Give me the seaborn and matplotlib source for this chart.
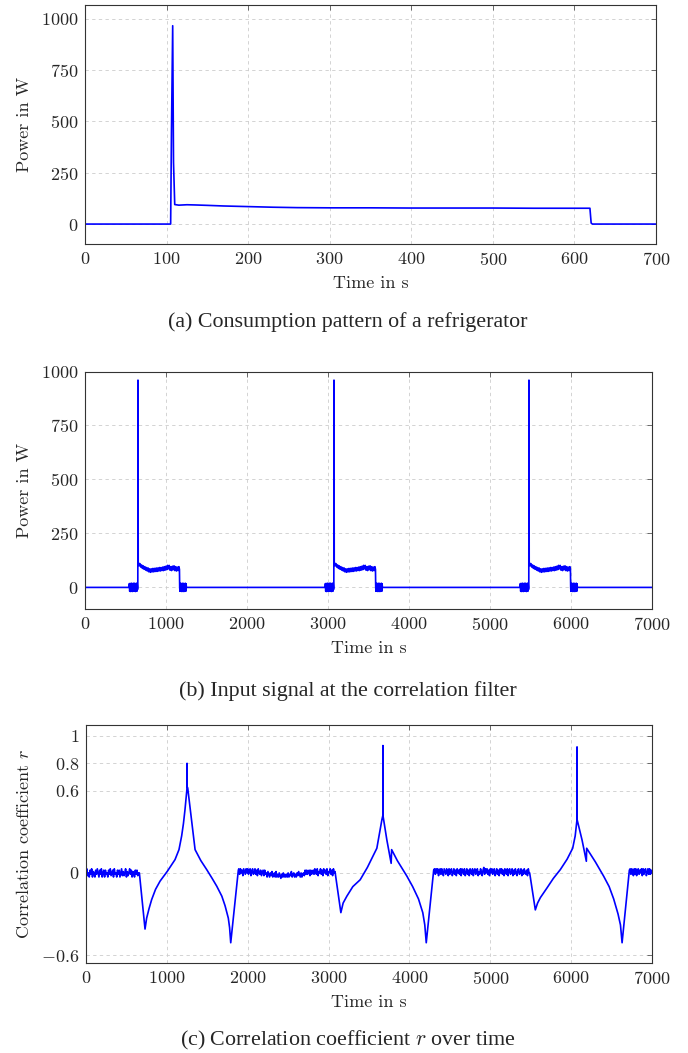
import numpy as np
import matplotlib
matplotlib.use("Agg")
import matplotlib.pyplot as plt
import seaborn as sns

# --- DATA ---

# (a) one refrigerator cycle, time in s / power in W
fridge_t = [0, 105, 106, 107.5, 108.5, 110, 115, 125, 135, 150, 170, 200, 230,
            260, 300, 350, 400, 450, 500, 550, 600, 619, 620.5, 622, 650, 700]
fridge_p = [0, 0, 450, 965, 300, 95, 92, 94, 93, 91, 88, 85, 82,
            80, 79, 79, 78, 78, 78, 77, 77, 77, 5, 0, 0, 0]

# (b) input signal: three refrigerator runs inside 7000 s
spike_times = [654, 3074, 5481]
# shape of one run, time relative to the start-up spike
run_t = [-2, 0, 3] + list(range(5, 506, 10)) + [512, 515]
run_p = [0, 960, 112,
         115, 100, 110, 94, 104, 88, 100, 84, 96, 80,
         92, 76, 90, 72, 86, 70, 86, 72, 88, 72,
         88, 74, 90, 74, 90, 76, 92, 76, 92, 78,
         94, 78, 96, 80, 98, 82, 102, 86, 102, 80,
         96, 78, 98, 82, 100, 78, 96, 76, 94, 78,
         96, 84, 0]
# switching transients just before and after each run
blob_pre_t = list(range(-110, -5, 4))
blob_pre_p = [0, 18, -18, 17, -19, 18, -17, 19, -18, 18, -19, 17, -18, 19,
              -17, 18, -18, 19, -18, 17, -19, 18, -17, 19, -18, 18, -10]
blob_post_t = list(range(518, 599, 4))
blob_post_p = [-18, 18, -17, 19, -18, 17, -19, 18, -18, 19, -17, 18, -19, 17,
               -18, 18, -17, 19, -18, 16, 0]

# (c) correlation coefficient r, noisy flat parts (hundredths, every 10 s)
flat_step = 10
flat1_t0 = 0
flat1 = [-1, 3, -2, 0, -3, 2, -1, 3, -3, 1, 0, -3, 2, -1, 3, 0, -3, 2, -1, 3,
         -3, 0, 2, -3, 2, -1, 0, -3, 2, -1, 3, -2, 0, 2, -3, 3, -1, 0, -3, 2,
         -1, 2, -3, 0, 3, -2, 1, -2, 0, 3, -3, 1, -2, 0, 3, -1, 2, -3, 1, 0,
         -3, 2, -1, 2, -2, 0]
flat2_t0 = 1890
flat2 = [3, -1, 3, 0, 2, -2, 3, 1, -1, 3, 0, 3, -1, 2, 3, -2, 1, 3, -1, 0,
         3, -1, 2, -2, 3, 0, -1, 2, -2, 0, 2, -2, 2, -1, 0, -3, 1, -1, -3, 0,
         -2, 1, -3, -1, 0, -3, 1, -3, -1, -3, 0, -2, -4, -1, -3, 0, -3, -1, -3, -1,
         -3, 0, -3, -1, -2, 1, -3, -1, 0, -3, -1, -3, 0, -2, 1, -1, -3, 0, -3, -1,
         0, -2, 2, -1, 2, -1, 0, 2, -2, 2, -1, 0, 2, -1, 3, 0, -1, 3, -2, 1,
         0, 3, -1, 2, -2, 3, 0, 2, -1, 3, -2, 1, 0, 3, -1, 2, -2, 3, 0, 1]
flat3_t0 = 4310
flat3 = [3, -1, 3, 0, 3, -2, 1, 3, -1, 3, 0, -2, 3, 1, -1, 3, 0, -2, 3, -1,
         2, 3, -2, 0, 3, -1, 2, -2, 3, 0, 2, -1, 3, -2, 3, 1, -1, 3, -2, 0,
         3, -1, 2, -2, 3, 0, -1, 3, -2, 1, 3, -1, 0, 3, -2, 1, -1, 3, 0, -2,
         2, 4, -1, 3, 0, 3, -1, 2, -2, 3, 0, 3, -1, 2, 3, -2, 0, 3, -1, 2,
         -2, 3, 0, 3, -1, 2, -2, 3, 0, -1, 3, -2, 2, 3, -1, 0, 3, -2, 2, -1,
         3, 0, -2, 2, 3, -1, 0, 3, -2, 2, -1, 3, 0, -1, 2, -2, 3, 0]
flat4_t0 = 6730
flat4 = [3, -1, 3, 0, -2, 3, -1, 3, -2, 2, 3, -1, 2, 0, 3, -2, 3, -1, 2, 3,
         -2, 0, 3, -1, 3, -1, 2, 0]

cycle1_t = [660, 730, 750, 780, 812, 860, 916, 1006, 1101, 1150, 1183, 1205,
            1224, 1240, 1249.5, 1250, 1250.5, 1258, 1349, 1420, 1493, 1560,
            1617, 1680, 1720, 1760, 1776, 1790, 1884]
cycle1_r = [0, -0.41, -0.33, -0.26, -0.195, -0.12, -0.06, 0.012, 0.097, 0.17,
            0.27, 0.36, 0.46, 0.56, 0.62, 0.80, 0.63, 0.62, 0.17, 0.09, 0.024,
            -0.04, -0.097, -0.17, -0.24, -0.33, -0.40, -0.51, 0.02]
cycle2_t = [3082, 3152, 3180, 3226, 3300, 3391, 3480, 3556, 3597, 3630, 3660,
            3671.5, 3672, 3672.5, 3721, 3774, 3780, 3850, 3969, 4040, 4112,
            4165, 4190, 4208, 4300]
cycle2_r = [0, -0.29, -0.22, -0.17, -0.10, -0.05, 0.04, 0.13, 0.18, 0.29,
            0.39, 0.42, 0.93, 0.42, 0.24, 0.07, 0.17, 0.09, -0.024, -0.10,
            -0.19, -0.29, -0.38, -0.51, 0.02]
cycle3_t = [5487, 5557, 5585, 5620, 5701, 5780, 5866, 5950, 6019, 6050, 6072.5,
            6073, 6073.5, 6135, 6188, 6192, 6300, 6402, 6470, 6526, 6580,
            6610, 6630, 6720]
cycle3_r = [0, -0.27, -0.22, -0.18, -0.11, -0.04, 0.024, 0.10, 0.18, 0.27,
            0.39, 0.92, 0.39, 0.24, 0.085, 0.18, 0.08, -0.024, -0.10, -0.19,
            -0.30, -0.38, -0.51, 0.02]

# --- BUILD SERIES ---
sig_t, sig_p = [0], [0]
for s in spike_times:
    for rel_t, vals in [(blob_pre_t, blob_pre_p), (run_t, run_p), (blob_post_t, blob_post_p)]:
        sig_t += [s + v for v in rel_t]
        sig_p += list(vals)
sig_t.append(7000)
sig_p.append(0)


def flat_piece(t0, vals):
    return [t0 + flat_step * i for i in range(len(vals))], [v / 100 for v in vals]


corr_t, corr_r = [], []
for tt, rr in [flat_piece(flat1_t0, flat1), (cycle1_t, cycle1_r),
               flat_piece(flat2_t0, flat2), (cycle2_t, cycle2_r),
               flat_piece(flat3_t0, flat3), (cycle3_t, cycle3_r),
               flat_piece(flat4_t0, flat4)]:
    corr_t += tt
    corr_r += rr

# --- STYLE ---
sns.set_style("white")
plt.rcParams["font.family"] = ["cmr10", "DejaVu Serif"]
plt.rcParams["mathtext.fontset"] = "cm"
plt.rcParams["axes.formatter.use_mathtext"] = True

FS = 13
CAP_FS = 15.8
LINE = "#0000ff"
LW = 1.2

fig = plt.figure(figsize=(6.88, 10.53), dpi=100)
ax_a = fig.add_axes([85 / 688, 1 - 244 / 1053, 571 / 688, 239 / 1053])
ax_b = fig.add_axes([85 / 688, 1 - 609 / 1053, 567 / 688, 237.5 / 1053])
ax_c = fig.add_axes([86 / 688, 1 - 963.3 / 1053, 566 / 688, 238.3 / 1053])


def style_axes(ax):
    ax.grid(True, linestyle=(0, (4, 4)), color="#cccccc", linewidth=0.6)
    ax.set_axisbelow(True)
    for sp in ax.spines.values():
        sp.set_color("#333333")
        sp.set_linewidth(0.8)
    ax.tick_params(direction="in", top=True, right=True, length=3.5,
                   width=0.6, color="#555555", labelsize=FS, pad=5)


sns.lineplot(x=fridge_t, y=fridge_p, ax=ax_a, color=LINE, lw=LW,
             estimator=None, sort=False)
ax_a.set_xlim(0, 700)
ax_a.set_ylim(-97, 1066)
ax_a.set_xticks(range(0, 701, 100))
ax_a.set_yticks([0, 250, 500, 750, 1000])
ax_a.set_xlabel("Time in s", fontsize=FS, labelpad=5.5)
ax_a.set_ylabel("Power in W", fontsize=FS, labelpad=6)
style_axes(ax_a)

sns.lineplot(x=sig_t, y=sig_p, ax=ax_b, color=LINE, lw=LW,
             estimator=None, sort=False)
ax_b.set_xlim(0, 7000)
ax_b.set_ylim(-100, 1000)
ax_b.set_xticks(range(0, 7001, 1000))
ax_b.set_yticks([0, 250, 500, 750, 1000])
ax_b.set_xlabel("Time in s", fontsize=FS, labelpad=5.5)
ax_b.set_ylabel("Power in W", fontsize=FS, labelpad=6)
style_axes(ax_b)

sns.lineplot(x=corr_t, y=corr_r, ax=ax_c, color=LINE, lw=LW,
             estimator=None, sort=False)
ax_c.set_xlim(0, 7000)
ax_c.set_ylim(-0.66, 1.08)
ax_c.set_xticks(range(0, 7001, 1000))
ax_c.set_yticks([-0.6, 0, 0.6, 0.8, 1])
ax_c.set_yticklabels([r"$-0.6$", r"$0$", r"$0.6$", r"$0.8$", r"$1$"])
ax_c.set_xlabel("Time in s", fontsize=FS, labelpad=5.5)
ax_c.set_ylabel(r"Correlation coefficient $r$", fontsize=FS, labelpad=6)
style_axes(ax_c)

cx = 348 / 688
cap_font = ["Liberation Serif", "DejaVu Serif"]
fig.text(cx, 1 - 322 / 1053, "(a) Consumption pattern of a refrigerator",
         ha="center", va="center", fontsize=CAP_FS, family=cap_font)
fig.text(cx, 1 - 691 / 1053, "(b) Input signal at the correlation filter",
         ha="center", va="center", fontsize=CAP_FS, family=cap_font)
fig.text(cx, 1 - 1040 / 1053, r"(c) Correlation coefficient $r$ over time",
         ha="center", va="center", fontsize=CAP_FS, family=cap_font)

plt.savefig("out.png", dpi=100)
